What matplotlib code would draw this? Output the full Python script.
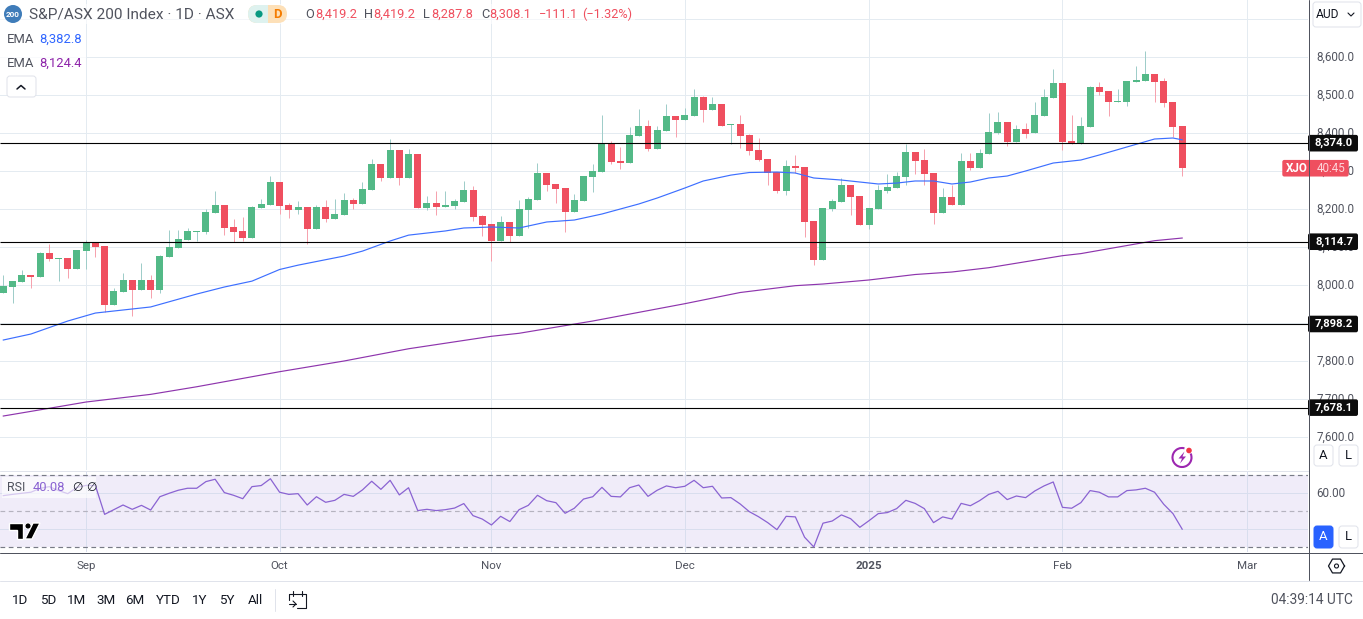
import matplotlib
matplotlib.use('Agg')
import matplotlib.pyplot as plt
from matplotlib.patches import Arc, Circle, FancyBboxPatch, Polygon, Rectangle
from matplotlib.transforms import ScaledTranslation
import numpy as np

opens = [7980.6, 7996.4, 8008.7, 8027.1, 8022.7, 8085.0, 8070.1, 8071.8, 8042.9, 8091.1,
         8111.3, 8103.4, 7949.0, 7982.4, 8014.0, 7987.6, 8014.0, 7987.6, 8074.5, 8098.2,
         8119.2, 8141.1, 8140.3, 8190.3, 8211.3, 8153.4, 8142.9, 8124.5, 8203.4, 8211.3,
         8271.9, 8211.3, 8198.2, 8206.0, 8148.2, 8206.0, 8174.5, 8185.0, 8224.5, 8213.9,
         8250.8, 8319.2, 8282.4, 8356.0, 8282.4, 8345.5, 8203.4, 8216.6, 8206.0, 8208.7,
         8219.2, 8250.8, 8182.4, 8161.3, 8115.7, 8166.6, 8129.8, 8198.2, 8224.5, 8295.5,
         8266.6, 8256.0, 8192.9, 8221.9, 8285.0, 8298.2, 8374.5, 8327.1, 8321.8, 8392.9,
         8419.2, 8358.7, 8406.0, 8445.5, 8435.0, 8445.5, 8495.5, 8461.3, 8477.1, 8421.8,
         8424.5, 8395.5, 8356.0, 8332.4, 8298.2, 8248.1, 8313.9, 8311.3, 8169.2, 8066.6,
         8200.8, 8219.2, 8264.0, 8235.0, 8158.7, 8200.8, 8248.1, 8256.0, 8285.0, 8350.8,
         8329.7, 8295.5, 8190.3, 8232.4, 8211.3, 8327.1, 8308.7, 8345.5, 8400.8, 8429.7,
         8377.1, 8411.3, 8400.8, 8445.5, 8492.9, 8532.4, 8379.8, 8371.8, 8416.6, 8521.9,
         8511.3, 8482.4, 8482.4, 8535.0, 8537.6, 8556.0, 8537.6, 8482.4, 8419.2]
highs = [8027.1, 8011.3, 8040.3, 8027.1, 8087.6, 8108.7, 8071.8, 8071.8, 8092.9, 8119.2,
         8111.3, 8103.4, 7992.9, 8032.4, 8014.0, 8058.7, 8027.1, 8079.7, 8145.5, 8145.5,
         8150.8, 8142.9, 8200.8, 8248.1, 8211.3, 8174.5, 8179.8, 8208.7, 8227.1, 8287.6,
         8271.9, 8216.6, 8221.9, 8206.0, 8211.3, 8224.5, 8227.1, 8242.9, 8229.7, 8271.9,
         8332.4, 8319.2, 8385.0, 8356.0, 8358.7, 8345.5, 8235.0, 8248.1, 8248.1, 8227.1,
         8274.5, 8261.3, 8185.0, 8161.3, 8182.4, 8166.6, 8224.5, 8232.4, 8321.8, 8295.5,
         8266.6, 8256.0, 8240.3, 8287.6, 8319.2, 8448.2, 8379.8, 8363.9, 8416.6, 8463.9,
         8435.0, 8419.2, 8477.1, 8445.5, 8466.6, 8516.6, 8498.2, 8495.5, 8477.1, 8424.5,
         8448.2, 8398.2, 8387.6, 8332.4, 8298.2, 8329.7, 8342.9, 8311.3, 8169.2, 8203.4,
         8227.1, 8282.4, 8264.0, 8235.0, 8203.4, 8264.0, 8292.9, 8298.2, 8371.8, 8350.8,
         8358.7, 8295.5, 8256.0, 8264.0, 8348.2, 8348.2, 8358.7, 8453.4, 8456.0, 8429.7,
         8421.8, 8427.1, 8482.4, 8516.6, 8569.2, 8532.4, 8448.2, 8442.9, 8524.5, 8535.0,
         8511.3, 8516.6, 8537.6, 8577.1, 8616.6, 8556.0, 8545.5, 8482.4, 8419.2]
lows = [7980.6, 7954.3, 8008.7, 7993.8, 8022.7, 8064.8, 8012.2, 8020.1, 8042.9, 8043.8,
        8075.3, 7929.7, 7949.0, 7982.4, 7920.1, 7987.6, 7967.5, 7980.6, 8074.5, 8098.2,
        8119.2, 8116.6, 8135.0, 8190.3, 8132.4, 8114.0, 8116.6, 8124.5, 8203.4, 8211.3,
        8187.6, 8177.1, 8187.6, 8108.7, 8148.2, 8166.6, 8174.5, 8185.0, 8200.8, 8213.9,
        8250.8, 8274.5, 8282.4, 8264.0, 8282.4, 8203.4, 8198.2, 8185.0, 8206.0, 8200.8,
        8219.2, 8169.2, 8129.8, 8063.9, 8115.7, 8114.0, 8129.8, 8150.8, 8224.5, 8248.1,
        8216.6, 8140.3, 8192.9, 8221.9, 8245.5, 8298.2, 8319.2, 8306.0, 8321.8, 8392.9,
        8353.4, 8358.7, 8406.0, 8390.3, 8435.0, 8445.5, 8429.7, 8461.3, 8419.2, 8371.8,
        8361.3, 8342.9, 8327.1, 8264.0, 8242.9, 8237.6, 8295.5, 8127.1, 8053.4, 8066.6,
        8195.5, 8219.2, 8185.0, 8158.7, 8148.2, 8200.8, 8242.9, 8256.0, 8264.0, 8292.9,
        8264.0, 8161.3, 8190.3, 8211.3, 8211.3, 8303.4, 8308.7, 8345.5, 8398.2, 8366.6,
        8377.1, 8387.6, 8400.8, 8445.5, 8492.9, 8356.0, 8371.8, 8371.8, 8416.6, 8500.8,
        8445.5, 8482.4, 8471.8, 8535.0, 8537.6, 8482.4, 8469.2, 8390.3, 8287.8]
closes = [7998.2, 8011.3, 8027.1, 8021.8, 8085.0, 8069.2, 8071.8, 8042.9, 8092.9, 8111.3,
          8100.8, 7949.0, 7985.0, 8014.0, 7987.6, 8014.0, 7987.6, 8077.1, 8100.8, 8121.9,
          8142.9, 8142.9, 8192.9, 8211.3, 8150.8, 8140.3, 8124.5, 8206.0, 8213.9, 8271.9,
          8208.7, 8198.2, 8206.0, 8148.2, 8206.0, 8174.5, 8187.6, 8224.5, 8213.9, 8253.4,
          8319.2, 8282.4, 8356.0, 8282.4, 8345.5, 8203.4, 8216.6, 8206.0, 8211.3, 8221.9,
          8250.8, 8179.8, 8158.7, 8115.7, 8166.6, 8129.8, 8200.8, 8227.1, 8295.5, 8264.0,
          8253.4, 8192.9, 8224.5, 8287.6, 8300.8, 8374.5, 8324.5, 8321.8, 8395.5, 8419.2,
          8358.7, 8408.7, 8445.5, 8435.0, 8448.2, 8495.5, 8461.3, 8477.1, 8419.2, 8424.5,
          8392.9, 8353.4, 8329.7, 8295.5, 8248.1, 8313.9, 8308.7, 8166.6, 8066.6, 8203.4,
          8221.9, 8264.0, 8232.4, 8158.7, 8203.4, 8250.8, 8258.7, 8287.6, 8350.8, 8327.1,
          8292.9, 8190.3, 8232.4, 8211.3, 8327.1, 8308.7, 8348.2, 8403.4, 8429.7, 8377.1,
          8411.3, 8398.2, 8448.2, 8495.5, 8532.4, 8377.1, 8371.8, 8419.2, 8521.9, 8508.7,
          8482.4, 8485.0, 8537.6, 8540.3, 8556.0, 8535.0, 8479.7, 8416.6, 8308.1]

ema_fast_idx = [0, 3, 7, 10, 16, 21, 24, 27, 30, 32, 37, 39, 42, 44, 48, 50, 53, 56, 59, 62,
                65, 67, 69, 71, 74, 76, 79, 81, 84, 86, 88, 91, 93, 95, 97, 99, 101, 103, 105,
                107, 109, 111, 114, 117, 119, 122, 125, 127, 128]
ema_fast = [7856.0, 7871.8, 7906.0, 7927.0, 7943.0, 7977.0, 7995.5, 8011.0, 8041.6, 8053.0,
            8077.0, 8090.0, 8116.6, 8132.0, 8143.0, 8150.8, 8153.4, 8150.8, 8166.6, 8171.8,
            8187.6, 8200.8, 8214.0, 8229.7, 8256.0, 8274.5, 8290.0, 8296.8, 8298.0, 8295.5,
            8282.4, 8277.0, 8271.8, 8266.6, 8269.0, 8274.5, 8274.5, 8266.6, 8271.8, 8282.4,
            8287.6, 8300.8, 8321.8, 8329.7, 8342.9, 8364.0, 8385.0, 8387.6, 8382.8]
ema_slow_idx = [0, 6, 9, 16, 21, 30, 37, 44, 53, 56, 64, 74, 80, 86, 89, 94, 99, 103, 107,
                115, 117, 125, 128]
ema_slow = [7656.0, 7680.5, 7692.9, 7713.0, 7733.0, 7772.6, 7800.8, 7833.0, 7865.8, 7873.7,
            7906.0, 7951.6, 7981.0, 7999.0, 8003.4, 8014.0, 8028.4, 8035.0, 8046.3, 8077.9,
            8083.4, 8117.4, 8124.4]

rsi = [58.7, 59.4, 60.0, 60.6, 62.8, 63.7, 61.5, 59.8, 63.3, 64.4,
       64.3, 48.3, 50.9, 53.5, 51.1, 53.3, 50.7, 58.1, 60.0, 61.7,
       62.8, 62.8, 66.5, 67.8, 60.4, 58.9, 57.0, 63.7, 64.3, 68.1,
       60.6, 59.4, 59.8, 53.5, 58.1, 55.0, 56.1, 59.4, 58.3, 61.9,
       66.7, 62.2, 67.2, 59.1, 63.1, 50.4, 51.1, 50.4, 50.9, 51.8,
       54.3, 47.6, 45.7, 42.4, 47.2, 44.3, 50.9, 53.3, 58.9, 55.9,
       54.8, 48.9, 51.7, 56.8, 58.1, 63.3, 58.3, 58.0, 63.1, 64.6,
       58.3, 61.7, 64.1, 63.1, 63.9, 67.2, 63.1, 63.9, 57.4, 57.6,
       54.1, 49.8, 47.0, 43.7, 39.8, 47.2, 46.9, 35.6, 30.2, 43.4,
       44.6, 48.0, 45.9, 41.1, 44.8, 48.7, 49.3, 51.5, 56.1, 54.4,
       51.5, 43.7, 46.9, 45.7, 54.4, 53.1, 55.9, 59.4, 61.1, 56.5,
       58.5, 57.6, 61.3, 64.1, 66.3, 52.2, 51.7, 54.8, 61.5, 60.6,
       58.0, 58.0, 61.5, 61.9, 62.8, 60.6, 53.9, 48.7, 40.08]

levels = [8374.0, 8114.7, 7898.2, 7678.1]
level_labels = ['8,374.0', '8,114.7', '7,898.2', '7,678.1']
price_ticks = [7600, 7700, 7800, 7900, 8000, 8100, 8200, 8300, 8400, 8500, 8600, 8700]
# 7,900 and 8,700 sit fully under a price tag and the AUD box
hidden_ticks = [7900, 8700]
month_idx = [9, 30, 53, 74, 94, 115, 135]
month_labels = ['Sep', 'Oct', 'Nov', 'Dec', '2025', 'Feb', 'Mar']
ranges = ['1D', '5D', '1M', '3M', '6M', 'YTD', '1Y', '5Y', 'All']

W, H = 1363, 619
PX = 0.72  # one pixel in points at dpi 100
GREEN, RED = '#53b987', '#ef4f5f'
GREEN_WICK, RED_WICK = '#9fcdc9', '#f6a2ae'
GRID = '#e4ebf1'
TEXT = '#50535e'
BLUE_LINE, PURPLE_LINE = '#3d6fff', '#8e35ad'

plt.rcParams['font.family'] = ['Roboto', 'DejaVu Sans']


def px_axes(left, top, right, bottom):
    return fig.add_axes([left / W, 1 - bottom / H, (right - left) / W, (bottom - top) / H])


def fs(px):
    return px * PX


def lift_labels(labels, px):
    for lab in labels:
        lab.set_transform(lab.get_transform() + ScaledTranslation(0, px / 100, fig.dpi_scale_trans))


fig = plt.figure(figsize=(W / 100, H / 100), dpi=100, facecolor='white')

# bar i sits at 3.3 + 9.21 i pixels
xlim = (-3.3 / 9.21, (1308 - 3.3) / 9.21)

ax = px_axes(0, 0, 1308, 470)
ax.set_xlim(*xlim)
ax.set_ylim(8600 - (470 - 57.3) / 0.38, 8600 + 57.3 / 0.38)
for s in ax.spines.values():
    s.set_visible(False)
ax.set_axisbelow(True)
ax.grid(True, color=GRID, linewidth=PX)
ax.set_xticks(month_idx)
ax.tick_params(axis='x', length=0, labelbottom=False)
ax.yaxis.tick_right()
ax.set_yticks(price_ticks)
ax.set_yticklabels(['' if p in hidden_ticks else f'{p:,.1f}' for p in price_ticks],
                   fontsize=fs(11.6), color=TEXT)
ax.tick_params(axis='y', length=0, pad=6)
lift_labels(ax.get_yticklabels(), 2)

o, h, l, c = map(np.array, (opens, highs, lows, closes))
xs = np.arange(len(o))
up = c >= o
ax.vlines(xs, l, h, colors=[GREEN_WICK if u else RED_WICK for u in up], linewidth=PX, zorder=2)
ax.bar(xs, np.maximum(np.abs(c - o), 2.6), bottom=np.minimum(o, c), width=0.76,
       color=[GREEN if u else RED for u in up], linewidth=0, zorder=2.2)
ax.plot(ema_fast_idx, ema_fast, color=BLUE_LINE, linewidth=0.85, zorder=3)
ax.plot(ema_slow_idx, ema_slow, color=PURPLE_LINE, linewidth=0.85, zorder=3)
ax.hlines(levels, *xlim, color='black', linewidth=0.8, zorder=4)

ax_rsi = px_axes(0, 471, 1308, 552)
ax_rsi.set_xlim(*xlim)
ax_rsi.set_ylim(30 - 4.7 / 1.8, 70 + 4.3 / 1.8)
for s in ax_rsi.spines.values():
    s.set_visible(False)
ax_rsi.axhspan(30, 70, color='#f0ecf9', linewidth=0, zorder=0)
ax_rsi.set_axisbelow(True)
ax_rsi.set_xticks(month_idx)
ax_rsi.set_xticklabels(month_labels, fontsize=fs(11.5), color=TEXT)
ax_rsi.get_xticklabels()[4].set_fontweight('bold')
ax_rsi.set_yticks([40, 60])
ax_rsi.set_yticklabels(['', '60.00'], fontsize=fs(11.6), color=TEXT)
ax_rsi.yaxis.tick_right()
ax_rsi.tick_params(axis='x', length=0, pad=6.5)
ax_rsi.tick_params(axis='y', length=0, pad=6)
lift_labels(ax_rsi.get_yticklabels(), 1.5)
ax_rsi.grid(True, color='#d9deee', linewidth=PX, zorder=1)
ax_rsi.hlines([70, 30], *xlim, color='#787b86', linewidth=0.85, linestyles=(0, (4, 3)), zorder=2)
ax_rsi.hlines(50, *xlim, color='#b5b3bf', linewidth=0.85, linestyles=(0, (4, 3)), zorder=2)
ax_rsi.plot(xs, rsi, color='#8a63d2', linewidth=0.9, zorder=3)

# everything of the interface goes on a pixel overlay
ov = fig.add_axes([0, 0, 1, 1], facecolor='none', zorder=10)
ov.set_xlim(0, W)
ov.set_ylim(H, 0)
ov.axis('off')


def label(x, y, s, color=TEXT, size=13, ha='left', **kw):
    ov.text(x, y, s, color=color, fontsize=fs(size), ha=ha, va='center', **kw)


def box(x0, y0, x1, y1, fc='white', ec='#e0e3eb', r=3, **kw):
    ov.add_patch(FancyBboxPatch((x0 + r, y0 + r), x1 - x0 - 2 * r, y1 - y0 - 2 * r,
                                boxstyle=f'round,pad={r},rounding_size={r}', fc=fc, ec=ec,
                                linewidth=PX, **kw))


def line(xv, yv, color='#131722', lw=1.0):
    ov.plot(xv, yv, color=color, linewidth=lw, solid_capstyle='round')


# pane separators
line([1308.5, 1308.5], [0, 580], TEXT, PX)
line([0, W], [552.5, 552.5], TEXT, PX)
line([0, 1308], [470.5, 470.5], '#e0e3eb', PX)
line([0, W], [580.5, 580.5], '#e0e3eb', PX)

# header
ov.add_patch(Rectangle((0, 4), 635, 20, fc='white', ec='none', alpha=0.6))
ov.add_patch(Rectangle((0, 27), 86, 46, fc='white', ec='none', alpha=0.8))
ov.add_patch(Circle((13, 14), 9, fc='#3f7cb9', ec='none'))
label(13, 14.3, '200', 'white', 8, ha='center', fontweight='bold')
label(29, 14.5, 'S&P/ASX 200 Index · 1D · ASX', TEXT, 15.4)
box(248, 5, 287, 23, fc='#fde0b8', ec='none', r=9)
ov.add_patch(FancyBboxPatch((257, 14), 2, 0, boxstyle='round,pad=9,rounding_size=9', fc='#def2ef', ec='none'))
ov.add_patch(Rectangle((259, 5), 9, 18, fc='#def2ef', ec='none'))
ov.add_patch(Circle((259, 14), 3.6, fc='#089981', ec='none'))
label(277, 14, 'D', '#f57c00', 13, ha='center', fontweight='bold')

for x, s, col in [(305, 'O', TEXT), (315, '8,419.2', RED), (364, 'H', TEXT), (373.5, '8,419.2', RED),
                  (423, 'L', TEXT), (431.5, '8,287.8', RED), (481, 'C', TEXT), (489, '8,308.1', RED),
                  (539, '−111.1', RED), (582, '(−1.32%)', RED)]:
    label(x, 14.5, s, col, 12.8)

label(7, 39.5, 'EMA', TEXT, 13)
label(39, 39.5, '8,382.8', '#2f66ff', 13)
label(7, 63.5, 'EMA', TEXT, 13)
label(39, 63.5, '8,124.4', '#8e24aa', 13)
box(7, 76, 36, 97)
line([17, 21, 25], [89, 85.5, 89], '#131722', 1.1)

# right scale chrome
box(1313, 2, 1361, 27)
label(1316, 14, 'AUD', '#131722', 12)
line([1348, 1351, 1354], [13, 16, 13], '#131722', 0.8)

for p, s in zip(levels, level_labels):
    y = 619 - ax.transData.transform((0, p))[1]
    ov.add_patch(FancyBboxPatch((1308, y - 8.3), 50, 16.6, boxstyle='round,pad=0,rounding_size=2',
                                fc='#0c0c0c', ec='none'))
    label(1334, y, s, 'white', 11.2, ha='center', fontweight='bold')

y_last = 619 - ax.transData.transform((0, closes[-1]))[1]
ov.add_patch(FancyBboxPatch((1282.3, y_last - 8.3), 66.4, 16.6, boxstyle='round,pad=0,rounding_size=2',
                            fc=RED, ec='none'))
line([1308.5, 1308.5], [y_last - 8.3, y_last + 8.3], TEXT, PX)
label(1286, y_last, 'XJO', 'white', 11.6, fontweight='bold')
label(1317, y_last, '40:45', '#fdd3d8', 11.6)

for y0, y1, col, fc in [(445, 466, '#131722', 'white'), (526, 548, 'white', '#2962ff')]:
    box(1314, y0, 1333, y1, fc=fc, ec='#e0e3eb' if fc == 'white' else fc)
    label(1323.5, (y0 + y1) / 2, 'A', col, 13, ha='center')
    box(1339, y0, 1358, y1)
    label(1348.5, (y0 + y1) / 2, 'L', '#131722', 13, ha='center')

# lightning badge
ov.add_patch(Arc((1182, 457.5), 19, 19, theta1=-25, theta2=285, color='#9c27b0', linewidth=1.5))
ov.add_patch(Polygon([(1184.5, 451.5), (1178.5, 458.5), (1182, 458.5), (1180, 463.5), (1186, 456.5), (1182.5, 456.5)],
                     fc='#9c27b0', ec='none'))
ov.add_patch(Circle((1189, 450.5), 2.8, fc='#f23645', ec='none'))

# RSI legend
ov.add_patch(Rectangle((2, 477), 94, 21, fc='white', ec='none', alpha=0.65))
label(7, 487.5, 'RSI', TEXT, 12.5)
label(33, 487.5, '40.08', '#8a63d2', 13)
label(72, 487.5, '∅', '#131722', 12)
label(86, 487.5, '∅', '#131722', 12)

# logo
for pts in ([(9.3, 523), (23, 523), (23, 539), (16.5, 539), (16.5, 529.5), (9.3, 529.5)],
            [(33, 523), (40, 523), (32, 539), (25, 539)]):
    ov.add_patch(Polygon(pts, fc='black', ec='white', linewidth=1.0))
ov.add_patch(Circle((28, 526), 3, fc='black', ec='white', linewidth=0.6))

# settings hexagon
ang = np.radians(np.arange(0, 361, 60))
ov.plot(1336.5 + 8 * np.cos(ang), 566 + 8 * np.sin(ang), color='#131722', linewidth=0.9)
ov.add_patch(Circle((1336.5, 566), 2, fc='none', ec='#131722', linewidth=0.8))

# bottom toolbar
for x, s in zip([20, 48, 77, 106, 135, 168, 200, 227, 255], ranges):
    label(x, 600, s, '#131722', 13.4, ha='center')
line([274.5, 274.5], [589, 611], '#e0e3eb', PX)
line([288.5, 306, 306, 297], [594, 594, 607.5, 607.5], '#131722', 0.8)
line([288.5, 288.5], [594, 600], '#131722', 0.8)
line([292.5, 292.5], [591, 596], '#131722', 0.8)
line([302, 302], [591, 596], '#131722', 0.8)
line([288.5, 296], [604, 604], '#131722', 0.8)
line([293, 296, 293], [601, 604, 607], '#131722', 0.8)
label(1353, 600, '04:39:14 UTC', TEXT, 13.8, ha='right')

fig.savefig('out.png', dpi=100)
